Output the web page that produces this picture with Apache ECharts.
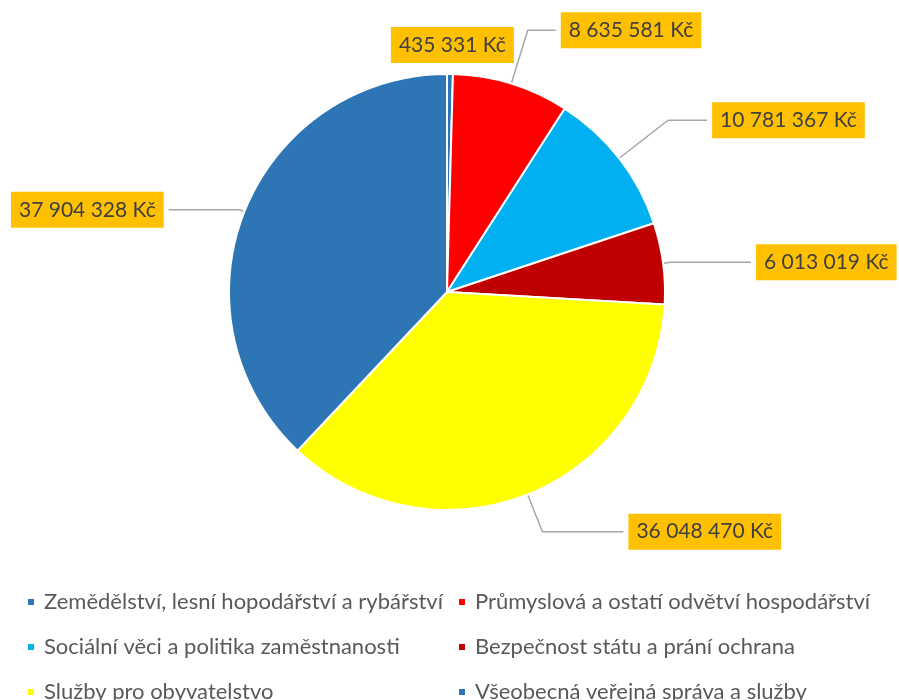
<!DOCTYPE html>
<html><head><meta charset="utf-8">
<script src="https://cdn.jsdelivr.net/npm/echarts@6/dist/echarts.min.js"></script>
<style>html,body{margin:0;padding:0;background:#fff}#c{width:899px;height:700px}</style>
</head><body><div id="c"></div>
<script>
const categories = [
  'Zemědělství, lesní hopodářství a rybářství',
  'Průmyslová a ostatí odvětví hospodářství',
  'Sociální věci a politika zaměstnanosti',
  'Bezpečnost státu a prání ochrana',
  'Služby pro obyvatelstvo',
  'Všeobecná veřejná správa a služby'
];
const values = [435331, 8635581, 10781367, 6013019, 36048470, 37904328];
const colors = ['#2E75B6', '#FF0000', '#00B0F0', '#C00000', '#FFFF00', '#2E75B6'];

// label line style per slice (length, length2)
const lineLen  = [29, 56, 62, 8, 40, 5];
const lineLen2 = [0, 28, 39, 80, 81, 71];

function fmt(v){ return String(v).replace(/\B(?=(\d{3})+(?!\d))/g, ' ') + ' Kč'; }

const chart = echarts.init(document.getElementById('c'), null, {renderer:'canvas'});
const legendText = {fontFamily:'Lato', fontSize:22, color:'#595959', lineHeight:16, padding:[0,0,0,4]};
const legendBase = {orient:'vertical', top:591, height:200, padding:0, itemWidth:8, itemHeight:8, itemGap:23,
  icon:'rect', textStyle:legendText, selectedMode:false};
chart.setOption({
  animation:false,
  backgroundColor:'#fff',
  legend:[
    Object.assign({data:[categories[0],categories[2],categories[4]], left:26}, legendBase),
    Object.assign({data:[categories[1],categories[3],categories[5]], left:457}, legendBase)
  ],
  series:[{
    type:'pie', center:[447,292], radius:218, startAngle:90, clockwise:true,
    avoidLabelOverlap:false,
    itemStyle:{borderColor:'#fff', borderWidth:2},
    label:{show:true, position:'outside', formatter:p=>fmt(p.value), color:'#404040',
      fontFamily:'Lato', fontSize:21, backgroundColor:'#FFC000', padding:[8,8,7,8]},
    labelLine:{show:true, lineStyle:{color:'#A6A6A6', width:1.5}},
    labelLayout:function(p){ if(p.dataIndex===0) return {align:'center', dx:-3}; },
    data: values.map((v,i)=>({
      name:categories[i], value:v, itemStyle:{color:colors[i]},
      labelLine:{show: i!==0, length:lineLen[i], length2:lineLen2[i]}
    }))
  }]
});
</script></body></html>
